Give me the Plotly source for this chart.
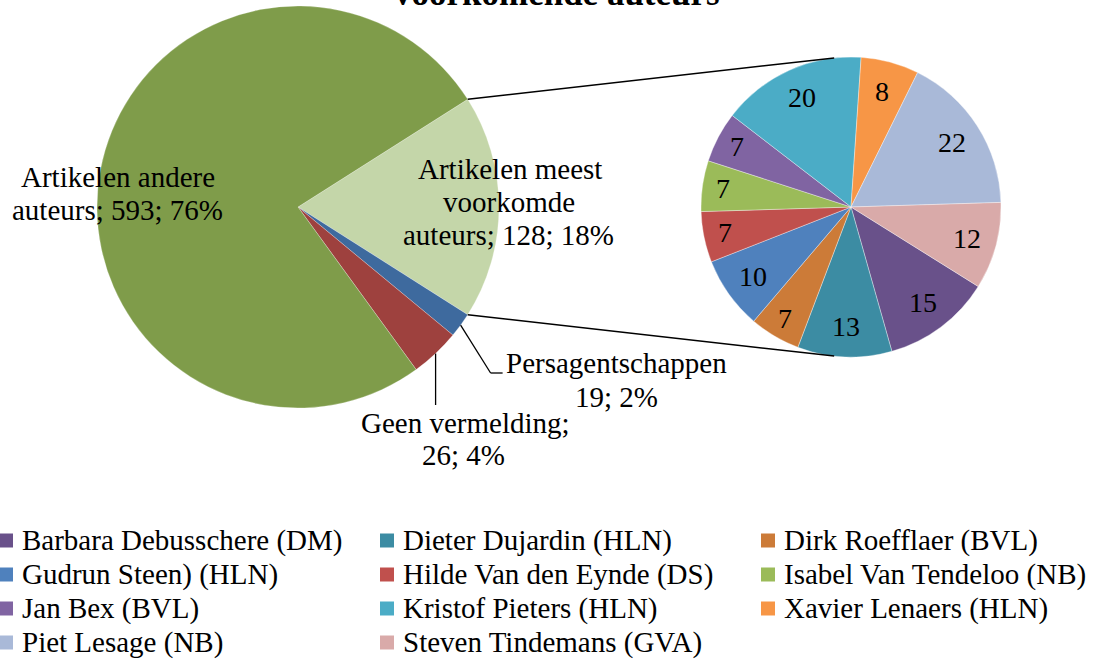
import math
import plotly.graph_objects as go

# main pie (left)
main_labels = ["Artikelen meest voorkomde auteurs", "Persagentschappen",
               "Geen vermelding", "Artikelen andere auteurs"]
main_counts = [128, 19, 26, 593]
main_shares = [18, 2, 4, 76]
main_colors = ["#C4D6A9", "#3E6A9E", "#9E413E", "#7F9C4A"]

# second pie (right): breakdown of the "meest voorkomde auteurs" slice
author_names = ["Barbara Debusschere (DM)", "Dieter Dujardin (HLN)", "Dirk Roefflaer (BVL)",
                "Gudrun Steen) (HLN)", "Hilde Van den Eynde (DS)", "Isabel Van Tendeloo (NB)",
                "Jan Bex (BVL)", "Kristof Pieters (HLN)", "Xavier Lenaers (HLN)",
                "Piet Lesage (NB)", "Steven Tindemans (GVA)"]
author_counts = [15, 13, 7, 10, 7, 7, 7, 20, 8, 22, 12]
author_colors = ["#69518A", "#3C8CA3", "#CC7B38", "#4F81BD", "#C0504D", "#9BBB59",
                 "#8064A2", "#4BACC6", "#F79646", "#A9B9D8", "#D9AAA9"]

title_text = "voorkomende auteurs"

W, H = 1101, 659
FONT = "Liberation Serif"

# pie geometry in pixels
L_CX, L_CY, L_R = 298, 207, 201
R_CX, R_CY, R_R = 851, 207, 150
R_ROTATION = 122


def px(x):
    return x / W


def py(y):
    return 1 - y / H


def domain(cx, cy, r):
    return dict(x=[px(cx - r), px(cx + r)], y=[py(cy + r), py(cy - r)])


def slice_angles(values, rotation):
    # start/mid/end angles (math degrees) for a clockwise pie
    total = sum(values)
    start = 90 - rotation
    out = []
    for v in values:
        span = v / total * 360
        out.append((start, start - span / 2, start - span))
        start -= span
    return out


def on_circle(cx, cy, r, a):
    return cx + r * math.cos(math.radians(a)), cy - r * math.sin(math.radians(a))


def tangent_point(p, cx, cy, r, upper):
    dx, dy = p[0] - cx, -(p[1] - cy)
    d = math.hypot(dx, dy)
    phi = math.degrees(math.atan2(dy, dx))
    alpha = math.degrees(math.acos(r / d))
    a = phi - alpha if upper else phi + alpha
    return on_circle(cx, cy, r, a)


L_ROTATION = 90 - main_shares[0] / sum(main_shares) * 360 / 2
main_ang = slice_angles(main_shares, L_ROTATION)
auth_ang = slice_angles(author_counts, R_ROTATION)

fig = go.Figure()

fig.add_trace(go.Pie(
    labels=main_labels, values=main_shares, sort=False, direction="clockwise",
    rotation=L_ROTATION, domain=domain(L_CX, L_CY, L_R),
    marker=dict(colors=main_colors, line=dict(color="rgba(255,255,255,0.5)", width=0.5)),
    textinfo="none", showlegend=False, hoverinfo="label+value",
))

fig.add_trace(go.Pie(
    labels=author_names, values=author_counts, sort=False, direction="clockwise",
    rotation=R_ROTATION, domain=domain(R_CX, R_CY, R_R),
    marker=dict(colors=author_colors, line=dict(color="rgba(255,255,255,0.6)", width=0.6)),
    textinfo="none", showlegend=False, hoverinfo="label+value",
))

shapes = []
annotations = []


def line(p0, p1, width=1.5):
    shapes.append(dict(type="line", xref="paper", yref="paper",
                       x0=px(p0[0]), y0=py(p0[1]), x1=px(p1[0]), y1=py(p1[1]),
                       line=dict(color="black", width=width)))


def text(s, x, y, size=29, anchor="center", bold=False):
    annotations.append(dict(text=f"<b>{s}</b>" if bold else s, x=px(x), y=py(y),
                            xref="paper", yref="paper", xanchor=anchor, yanchor="middle",
                            showarrow=False, font=dict(family=FONT, size=size, color="black")))


# connector lines between the two pies
top_p = on_circle(L_CX, L_CY, L_R, main_ang[0][0])
bot_p = on_circle(L_CX, L_CY, L_R, main_ang[0][2])
line(top_p, tangent_point(top_p, R_CX, R_CY, R_R, True))
line(bot_p, tangent_point(bot_p, R_CX, R_CY, R_R, False))

# labels of the main pie
text("Artikelen andere", 118, 177)
text(f"auteurs; {main_counts[3]}; {main_shares[3]}%", 117, 210)
text("Artikelen meest", 510, 169)
text("voorkomde", 509, 202)
text(f"auteurs; {main_counts[0]}; {main_shares[0]}%", 508, 235)
text("Persagentschappen", 617, 363)
text(f"{main_counts[1]}; {main_shares[1]}%", 616, 397)
text("Geen vermelding;", 465, 423)
text(f"{main_counts[2]}; {main_shares[2]}%", 463, 455)

# leader lines
p = on_circle(L_CX, L_CY, L_R, main_ang[1][1])
elbow = (p[0] + 30, 373)
line(p, elbow, 1.3)
line(elbow, (elbow[0] + 12, elbow[1]), 1.3)
p = on_circle(L_CX, L_CY, L_R, main_ang[2][1])
line(p, (p[0], 405), 1.3)

# values in the second pie
for v, (a0, am, a1) in zip(author_counts, auth_ang):
    frac = 0.86 if v < 8 else 0.8
    x, y = on_circle(R_CX, R_CY, R_R * frac, am)
    text(str(v), x, y, size=28)

# legend (3 columns)
for i, (name, col) in enumerate(zip(author_names, author_colors)):
    r, c = divmod(i, 3)
    x0 = -1 + 381 * c
    yc = 540.5 + 34 * r
    shapes.append(dict(type="rect", xref="paper", yref="paper",
                       x0=px(x0), x1=px(x0 + 14), y0=py(yc + 7), y1=py(yc - 7),
                       fillcolor=col, line=dict(width=0)))
    text(name, x0 + 21, yc, anchor="left")

# title (first line falls outside the picture)
text(title_text, 557, -7, size=35, bold=True)

fig.update_layout(
    width=W, height=H,
    margin=dict(l=0, r=0, t=0, b=0),
    paper_bgcolor="white", plot_bgcolor="white",
    font=dict(family=FONT),
    shapes=shapes, annotations=annotations,
    showlegend=False,
)

# drop the default body margin so the figure sits at the page corner
fig.write_html("out.html", config={"displayModeBar": False},
               post_script="document.body.style.margin = '0';")
